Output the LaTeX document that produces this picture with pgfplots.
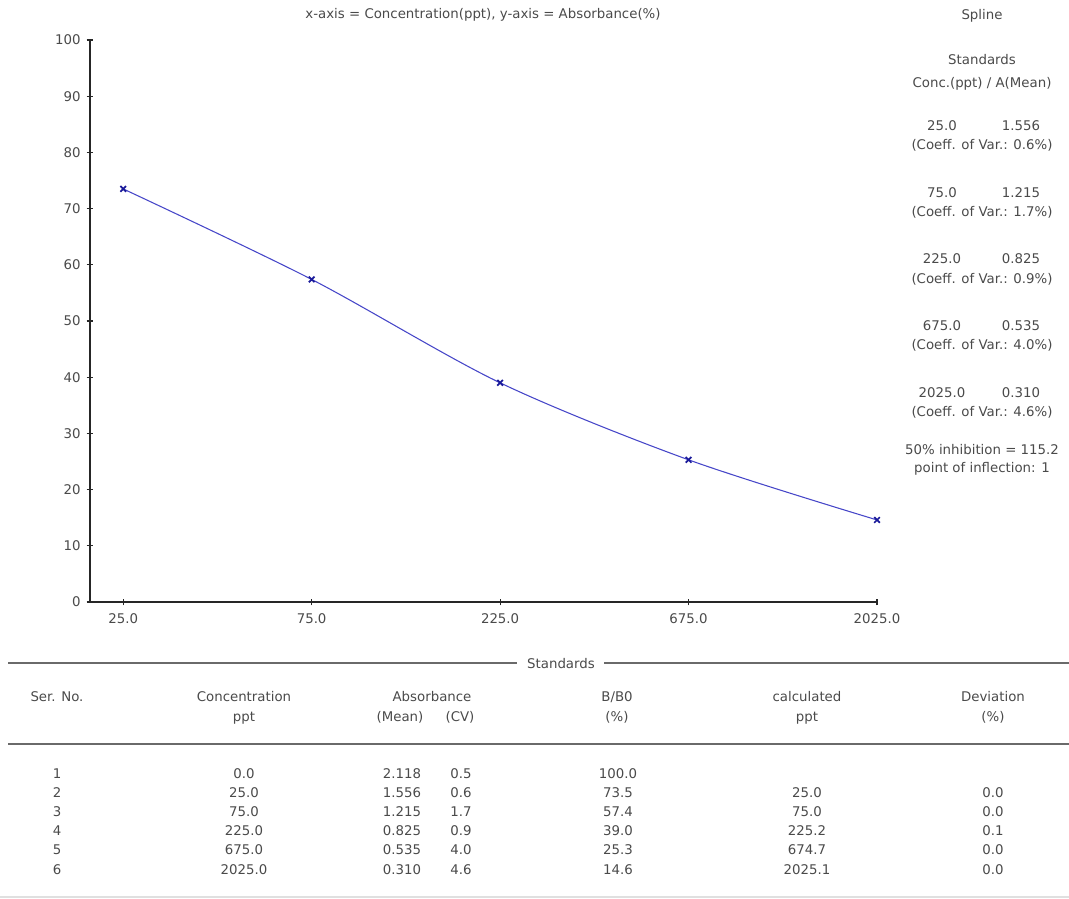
\documentclass[border=0pt]{standalone}
\usepackage{pgfplots}
\pgfplotsset{compat=1.18}
\usepackage{fontspec}
\setmainfont{DejaVu Sans}
\definecolor{txt}{HTML}{4A4A4A}
\definecolor{curve}{HTML}{4646C8}
\definecolor{mk}{HTML}{1A1A9A}
\definecolor{rulec}{HTML}{6A6A6A}
\begin{document}
\begin{tikzpicture}[font=\fontsize{10}{12}\selectfont]
\begin{scope}[x=0.75pt,y=-0.75pt,every node/.style={anchor=base,inner sep=0pt,text=txt}]
\useasboundingbox (0,0) rectangle (1069,898);
% title
\node at (483,19) {x-axis = Concentration(ppt), y-axis = Absorbance(\%)};
% right panel
\node at (982,20) {Spline};
\node at (982,65) {Standards};
\node at (982,88) {Conc.(ppt) / A(Mean)};
\foreach \c/\a/\v [count=\i from 0] in {25.0/1.556/0.6,75.0/1.215/1.7,225.0/0.825/0.9,675.0/0.535/4.0,2025.0/0.310/4.6}{
  \node at (942,{131+66.5*\i}) {\c};
  \node at (1021,{131+66.5*\i}) {\a};
  \node at (982,{150+66.5*\i}) {(Coeff. of Var.: \v\%)};
}
\node at (982,454) {50\% inhibition = 115.2};
\node at (982,472) {point of inflection: 1};
% table
\draw[rulec,line width=1.3pt] (8,663) -- (517,663);
\draw[rulec,line width=1.3pt] (604,663) -- (1069,663);
\node at (561,668) {Standards};
\draw[rulec,line width=1.3pt] (8,744) -- (1069,744);
\draw[black!12,line width=0.8pt] (0,897) -- (1069,897);
\node at (57,701) {Ser. No.};
\node at (244,701) {Concentration};
\node at (244,721) {ppt};
\node at (432,701) {Absorbance};
\node at (400,721) {(Mean)};
\node at (460,721) {(CV)};
\node at (617,701) {B/B0};
\node at (617,721) {(\%)};
\node at (807,701) {calculated};
\node at (807,721) {ppt};
\node at (993,701) {Deviation};
\node at (993,721) {(\%)};
\foreach \s/\c/\m/\v/\b/\k/\d [count=\i from 0] in {1/0.0/2.118/0.5/100.0//,2/25.0/1.556/0.6/73.5/25.0/0.0,3/75.0/1.215/1.7/57.4/75.0/0.0,4/225.0/0.825/0.9/39.0/225.2/0.1,5/675.0/0.535/4.0/25.3/674.7/0.0,6/2025.0/0.310/4.6/14.6/2025.1/0.0}{
  \node at (57,{778+19.2*\i}) {\s};
  \node at (244,{778+19.2*\i}) {\c};
  \node at (402,{778+19.2*\i}) {\m};
  \node at (461,{778+19.2*\i}) {\v};
  \node at (618,{778+19.2*\i}) {\b};
  \node at (807,{778+19.2*\i}) {\k};
  \node at (993,{778+19.2*\i}) {\d};
}
\end{scope}
\begin{axis}[
  at={(67.5pt,-451.5pt)}, anchor=south west,
  scale only axis, width=590.25pt, height=421.5pt,
  xmode=log, xmin=20.6, xmax=2025, ymin=0, ymax=100,
  axis lines=left,
  axis line style={-, line width=0.9pt, black!85},
  xtick={25,75,225,675,2025},
  xticklabels={25.0,75.0,225.0,675.0,2025.0},
  minor xtick={},
  ytick={0,10,...,100},
  tick align=center, major tick length=5pt,
  tick style={line width=0.8pt, black!85},
  ticklabel style={font=\fontsize{10}{12}\selectfont, text=txt},
  xticklabel style={yshift=-3pt},
  yticklabel style={xshift=-1pt},
  /pgf/number format/assume math mode=true,
  clip=false,
]
\addplot[curve, line width=0.8pt, smooth, mark=x, mark size=3pt, mark options={mk, line width=1.3pt}]
  coordinates {(25,73.5)(75,57.4)(225,39.0)(675,25.3)(2025,14.6)};
\end{axis}
\end{tikzpicture}
\end{document}
